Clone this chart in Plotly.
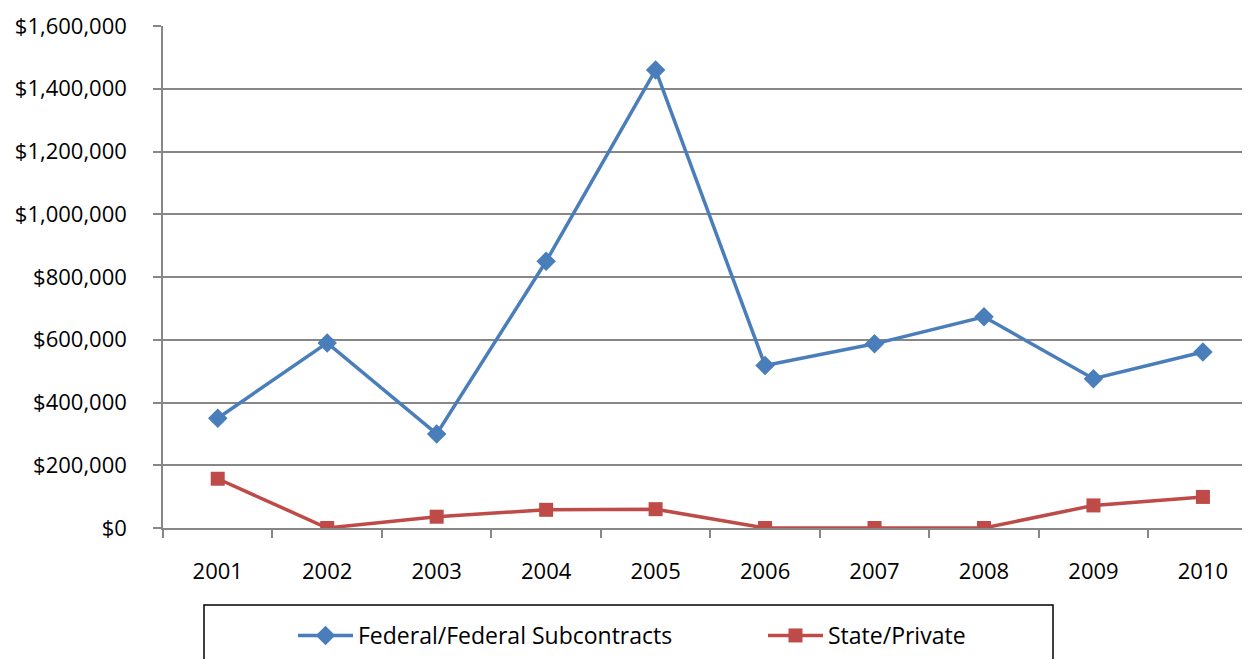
import plotly.graph_objects as go

years = ["2001", "2002", "2003", "2004", "2005", "2006", "2007", "2008", "2009", "2010"]
federal = [350000, 590000, 300000, 850000, 1460000, 518000, 587000, 673000, 476000, 561000]
state_private = [157000, 0, 36000, 58000, 60000, 0, 0, 0, 72000, 99000]

y_ticks = [0, 200000, 400000, 600000, 800000, 1000000, 1200000, 1400000, 1600000]
y_labels = ["$0", "$200,000", "$400,000", "$600,000", "$800,000",
            "$1,000,000", "$1,200,000", "$1,400,000", "$1,600,000"]

FONT = "Open Sans"
GRID = "#878787"

fig = go.Figure()
fig.add_scatter(
    x=years, y=federal, mode="lines+markers", name="Federal/Federal Subcontracts",
    line=dict(color="#4A7EBB", width=3.5),
    marker=dict(symbol="diamond", size=15, color="#4A7EBB"),
)
fig.add_scatter(
    x=years, y=state_private, mode="lines+markers", name="State/Private",
    line=dict(color="#BE4B48", width=3.5),
    marker=dict(symbol="square", size=14, color="#BE4B48"),
)

# legend frame runs off the bottom edge like the source
fig.add_shape(
    type="rect", xref="paper", yref="paper",
    x0=(204 - 163) / 1087, x1=(1053 - 163) / 1087,
    y0=(528 - 680) / 502, y1=(528 - 605) / 502,
    line=dict(color="black", width=1.5), fillcolor="rgba(0,0,0,0)",
)

# the page body adds an 8px offset, so margins are 8px tighter than the source
fig.update_layout(
    width=1250, height=659,
    margin=dict(l=155, r=8, t=18, b=139, autoexpand=False),
    paper_bgcolor="white", plot_bgcolor="white",
    font=dict(family=FONT, size=22, color="black"),
    showlegend=True,
    legend=dict(
        orientation="h", xref="container", yref="container",
        x=285 / 1250, xanchor="left",
        y=(659 - 606) / 659, yanchor="top",
        entrywidth=400, entrywidthmode="pixels", itemwidth=55,
        font=dict(family=FONT, size=23), bgcolor="rgba(0,0,0,0)",
    ),
)
fig.update_xaxes(
    type="category", range=[-0.5, 9.43], tickson="boundaries",
    ticks="outside", ticklen=8, tickcolor=GRID, tickwidth=1.5,
    showline=True, linecolor=GRID, linewidth=1.5,
    showgrid=False, ticklabelstandoff=23,
)
fig.update_yaxes(
    range=[0, 1600000], tickvals=y_ticks, ticktext=y_labels,
    ticks="outside", ticklen=8, tickcolor=GRID, tickwidth=1.5,
    showline=True, linecolor=GRID, linewidth=1.5,
    showgrid=True, gridcolor=GRID, gridwidth=1.5,
    zeroline=False, ticklabelstandoff=22,
)

fig.write_html("out.html")
